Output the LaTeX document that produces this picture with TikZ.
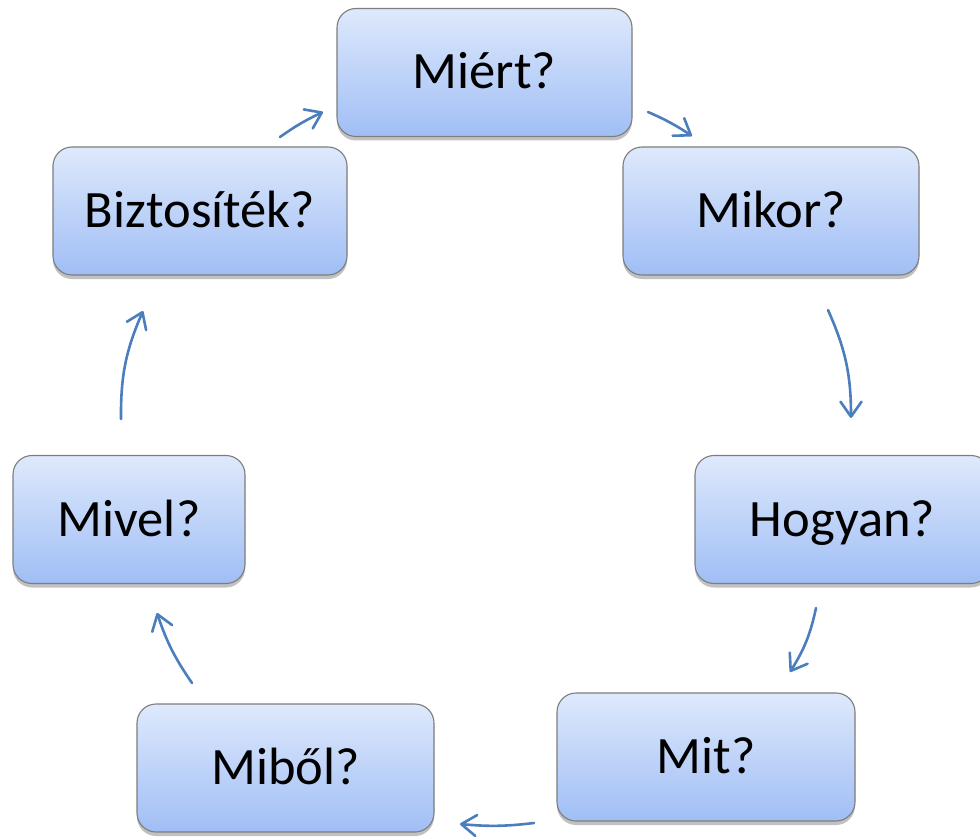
\documentclass[tikz,border=0pt]{standalone}
\usepackage{fontspec}
\setmainfont{Carlito}
\usetikzlibrary{arrows.meta,shadows}
\definecolor{boxtop}{RGB}{222,233,252}
\definecolor{boxbot}{RGB}{160,190,245}
\definecolor{boxline}{RGB}{125,125,125}
\definecolor{arrowblue}{RGB}{74,126,189}
\tikzset{
  qbox/.style={draw=boxline, line width=1.1pt, rounded corners=19pt,
    top color=boxtop, bottom color=boxbot,
    minimum width=295pt, minimum height=128pt, inner sep=0pt,
    text height=33pt, text depth=0pt,
    font=\fontsize{52.5}{62}\selectfont,
    drop shadow={shadow xshift=0pt, shadow yshift=-4pt, opacity=0.35, fill=black!70}},
  cyc/.style={draw=arrowblue, line width=2.6pt, line cap=round,
    -{Straight Barb[length=15pt,width=21pt,round]}}
}
\begin{document}
\begin{tikzpicture}[x=1pt,y=1pt]
\useasboundingbox (0,0) rectangle (980,-837);
\node[qbox] (miert) at (484.5,-72.5) {Miért?};
\node[qbox, minimum width=296pt] (mikor) at (771,-211) {Mikor?};
\node[qbox] (hogyan) at (842.5,-519.5) {Hogyan?};
\node[qbox, minimum width=298pt] (mit) at (706,-757) {Mit?};
\node[qbox, minimum width=297pt] (mibol) at (285.5,-768) {Miből?};
\node[qbox, minimum width=232pt] (mivel) at (129,-519.5) {Mivel?};
\node[qbox, minimum width=294pt] (bizt) at (200,-211) {Biztosíték?};

\coordinate (a1s) at (648,-112);  \coordinate (a1e) at (692,-136);
\coordinate (a2s) at (828,-310);  \coordinate (a2e) at (851,-418);
\coordinate (a3s) at (816,-608);  \coordinate (a3e) at (790,-672);
\coordinate (a4s) at (534,-823);  \coordinate (a4e) at (460,-824);
\coordinate (a5s) at (192,-683);  \coordinate (a5e) at (157,-613);
\coordinate (a6s) at (121,-419);  \coordinate (a6e) at (143,-311);
\coordinate (a7s) at (280,-137);  \coordinate (a7e) at (323,-112);

\draw[cyc] (a1s) to[bend left=5] (a1e);
\draw[cyc] (a2s) to[bend left=12] (a2e);
\draw[cyc] (a3s) to[bend left=10] (a3e);
\draw[cyc] (a4s) to[bend left=6] (a4e);
\draw[cyc] (a5s) to[bend left=8] (a5e);
\draw[cyc] (a6s) to[bend left=12] (a6e);
\draw[cyc] (a7s) to[bend left=5] (a7e);
\end{tikzpicture}
\end{document}
